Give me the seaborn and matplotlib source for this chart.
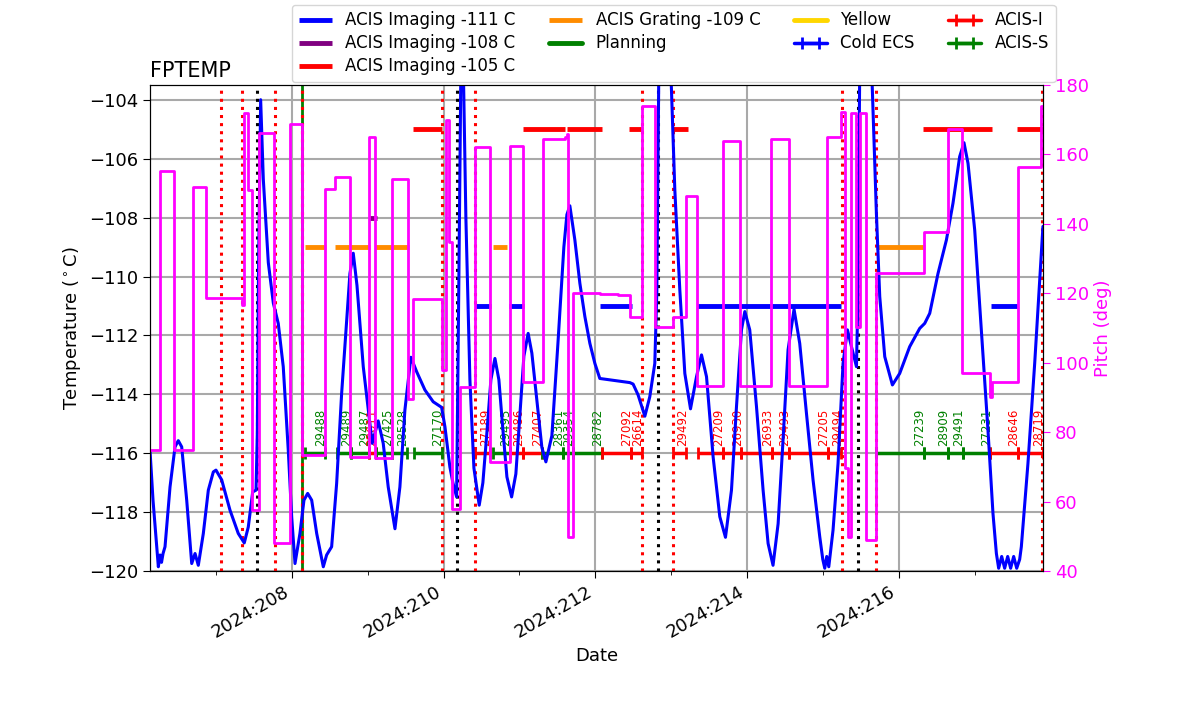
import numpy as np
import pandas as pd
import matplotlib
matplotlib.use('Agg')
import matplotlib.pyplot as plt
import seaborn as sns
from matplotlib.ticker import MultipleLocator, FuncFormatter

# focal plane temperature (day of year 2024, deg C)
temp_day = [206.128, 206.168, 206.238, 206.260, 206.280, 206.300, 206.326, 206.392, 206.458, 206.501,
            206.546, 206.612, 206.678, 206.722, 206.765, 206.831, 206.897, 206.963, 206.998, 207.073,
            207.183, 207.292, 207.371, 207.424, 207.482, 207.526, 207.543, 207.558, 207.587, 207.622,
            207.688, 207.754, 207.819, 207.885, 207.951, 207.996, 208.040, 208.105, 208.158, 208.207,
            208.260, 208.326, 208.413, 208.457, 208.523, 208.589, 208.655, 208.721, 208.764, 208.808,
            208.857, 208.940, 209.006, 209.058, 209.137, 209.203, 209.269, 209.358, 209.423, 209.489,
            209.568, 209.644, 209.753, 209.862, 209.973, 210.017, 210.082, 210.122, 210.171, 210.201,
            210.227, 210.260, 210.293, 210.346, 210.399, 210.469, 210.517, 210.570, 210.623, 210.676,
            210.728, 210.781, 210.834, 210.896, 210.952, 211.005, 211.058, 211.114, 211.163, 211.229,
            211.295, 211.348, 211.427, 211.506, 211.585, 211.625, 211.664, 211.730, 211.796, 211.862,
            211.928, 211.994, 212.059, 212.455, 212.498, 212.564, 212.653, 212.718, 212.784, 212.811,
            212.837, 212.995, 213.048, 213.114, 213.180, 213.255, 213.334, 213.400, 213.466, 213.553,
            213.641, 213.716, 213.795, 213.861, 213.927, 213.971, 214.036, 214.125, 214.212, 214.278,
            214.343, 214.410, 214.475, 214.541, 214.620, 214.695, 214.784, 214.871, 214.959, 214.999,
            215.025, 215.051, 215.078, 215.134, 215.200, 215.266, 215.324, 215.377, 215.443, 215.460,
            215.486, 215.644, 215.706, 215.750, 215.816, 215.917, 216.013, 216.145, 216.277, 216.343,
            216.409, 216.518, 216.629, 216.716, 216.804, 216.861, 216.914, 217.002, 217.090, 217.177,
            217.243, 217.288, 217.318, 217.358, 217.397, 217.437, 217.476, 217.516, 217.556, 217.595,
            217.617, 217.704, 217.793, 217.902]
temp_c = [-115.9, -117.6, -119.85, -119.45, -119.7, -119.4, -119.17, -117.14, -115.78, -115.57,
          -115.78, -117.59, -119.74, -119.4, -119.8, -118.72, -117.25, -116.63, -116.57, -116.9,
          -117.93, -118.72, -119.04, -118.5, -117.31, -117.25, -115.3, -110.0, -104.0, -106.7,
          -109.53, -110.9, -111.59, -113.06, -115.89, -118.15, -119.74, -118.72, -117.59, -117.36,
          -117.59, -118.72, -119.85, -119.45, -119.17, -117.02, -113.96, -111.47, -109.9, -109.21,
          -110.3, -113.06, -114.53, -115.66, -114.9, -115.66, -117.14, -118.56, -117.14, -114.53,
          -112.74, -113.23, -113.85, -114.25, -114.44, -115.1, -116.46, -117.0, -117.48, -110.0,
          -103.0, -103.0, -108.0, -113.5, -116.5, -117.76, -117.0, -115.3, -113.5, -112.78,
          -113.5, -115.2, -116.8, -117.48, -116.7, -114.7, -112.7, -111.93, -112.6, -114.2,
          -115.8, -116.29, -115.4, -112.3, -109.0, -107.9, -107.6, -108.76, -110.23, -111.36,
          -112.27, -112.95, -113.46, -113.6, -113.65, -114.02, -114.74, -114.08, -112.95, -110.5,
          -103.0, -103.0, -107.06, -110.46, -113.29, -114.49, -113.4, -112.66, -113.4, -116.12,
          -118.15, -118.85, -117.25, -114.42, -111.81, -111.19, -111.81, -114.42, -117.25, -119.06,
          -119.8, -118.39, -115.55, -112.49, -111.11, -112.27, -114.65, -116.91, -118.83, -119.6,
          -119.9, -119.5, -119.85, -118.61, -116.35, -112.95, -111.81, -112.38, -113.06, -111.0,
          -103.0, -103.0, -107.86, -110.68, -112.72, -113.68, -113.29, -112.38, -111.76, -111.59,
          -111.25, -109.9, -108.76, -107.51, -105.93, -105.46, -106.16, -108.42, -111.81, -115.21,
          -118.04, -119.4, -119.9, -119.5, -119.9, -119.5, -119.9, -119.5, -119.9, -119.6,
          -119.17, -116.35, -112.95, -108.3]

# pitch angle steps
pitch_day = [206.128, 206.260, 206.449, 206.699, 206.863, 207.337, 207.367, 207.420, 207.473, 207.565,
             207.763, 207.974, 208.128, 208.435, 208.567, 208.764, 209.019, 209.094, 209.322, 209.533,
             209.599, 209.973, 210.030, 210.073, 210.105, 210.214, 210.412, 210.610, 210.873, 211.048,
             211.304, 211.598, 211.620, 211.642, 211.707, 212.059, 212.300, 212.455, 212.609, 212.784,
             213.025, 213.202, 213.342, 213.684, 213.914, 214.322, 214.554, 215.055, 215.245, 215.288,
             215.328, 215.377, 215.433, 215.495, 215.565, 215.697, 216.329, 216.650, 216.840, 217.209,
             217.226, 217.573, 217.881, 217.902]
pitch_deg = [75, 155.3, 75, 150.5, 118.6, 116.6, 171.9, 149.8, 57.6, 166.1,
             48, 168.7, 73.4, 150, 153.4, 72.9, 165, 72.5, 152.8, 89.7,
             118.3, 97.9, 170, 134.9, 58, 93.1, 162.1, 71.5, 162.4, 94.5,
             164.4, 165, 165.8, 49.9, 120.2, 119.9, 119.6, 113.3, 174, 110.2,
             113.1, 147.9, 93.3, 163.9, 93.3, 164.5, 93.3, 165, 172.3, 69.6,
             49.9, 171.9, 110.4, 171.9, 48.9, 126, 137.8, 167.3, 97, 90.2,
             94.5, 156.5, 173.8, 173.8]

# temperature limit segments
lim111_start = [210.412, 210.864, 212.059, 213.342, 217.222]
lim111_stop = [210.619, 211.058, 212.477, 215.245, 217.573]
lim108_start = [209.019]
lim108_stop = [209.116]
lim105_start = [209.599, 211.040, 211.629, 212.448, 213.025, 216.320, 217.559]
lim105_stop = [209.973, 211.598, 212.090, 212.622, 213.223, 217.230, 217.897]
lim109_start = [208.171, 208.567, 209.094, 210.653, 215.706]
lim109_stop = [208.448, 209.028, 209.546, 210.830, 216.343]

# event lines
red_events = [207.064, 207.337, 207.776, 208.136, 209.973, 210.412, 212.617, 213.025,
              215.258, 215.706, 217.894]
black_events = [207.535, 210.179, 212.828, 215.464]
plan_events = [208.136]

# observations
obs_start = [208.171, 208.589, 208.778, 209.019, 209.103, 209.314, 209.608, 210.412, 210.653, 210.873,
             211.048, 211.291, 211.576, 211.707, 212.082, 212.464, 213.025, 213.355, 213.684, 213.927,
             214.330, 214.550, 215.068, 215.706, 216.329, 216.650, 216.848, 217.209, 217.572]
obs_stop = [208.435, 208.778, 209.019, 209.103, 209.314, 209.512, 209.973, 210.610, 210.873, 211.048,
            211.291, 211.576, 211.707, 212.082, 212.464, 212.617, 213.202, 213.684, 213.927, 214.330,
            214.550, 215.068, 215.245, 216.329, 216.650, 216.848, 217.209, 217.572, 217.902]
obsids = ['29488', '29489', '29487', '28611', '27425', '28528', '27170', '27189', '29495', '29486',
          '27407', '28361', '29354', '28782', '27092', '26614', '29492', '27209', '26930', '26933',
          '29493', '27205', '29494', '27239', '28909', '29491', '27231', '28646', '28719']
obs_inst = ['S', 'S', 'S', 'I', 'S', 'S', 'S', 'I', 'S', 'I',
            'I', 'S', 'S', 'S', 'I', 'I', 'I', 'I', 'I', 'I',
            'I', 'I', 'I', 'S', 'S', 'S', 'S', 'I', 'I']

sns.set_style('ticks')
plt.rcParams['font.family'] = ['DejaVu Sans']
plt.rcParams['axes.edgecolor'] = 'black'
plt.rcParams['xtick.color'] = 'black'
plt.rcParams['ytick.color'] = 'black'
plt.rcParams['text.color'] = 'black'
plt.rcParams['axes.labelcolor'] = 'black'

fig, ax = plt.subplots(figsize=(12, 7.14), dpi=100)
fig.subplots_adjust(left=0.125, right=0.869, bottom=0.2, top=0.881)

temp = pd.DataFrame({'day': temp_day, 'temp': temp_c})
sns.lineplot(data=temp, x='day', y='temp', ax=ax, color='blue', lw=2.2, sort=False,
             estimator=None, legend=False, zorder=5)

h111 = ax.hlines([-111] * len(lim111_start), lim111_start, lim111_stop, color='blue', lw=3.5)
h108 = ax.hlines([-108] * len(lim108_start), lim108_start, lim108_stop, color='purple', lw=3.5)
h105 = ax.hlines([-105] * len(lim105_start), lim105_start, lim105_stop, color='red', lw=3.5)
h109 = ax.hlines([-109] * len(lim109_start), lim109_start, lim109_stop, color='darkorange', lw=3.5)
hplan, = ax.plot([], [], color='green', lw=3.5)
hyel, = ax.plot([], [], color='gold', lw=3.5)

for d in red_events:
    ax.axvline(d, color='red', ls=':', lw=2.2)
for d in black_events:
    ax.axvline(d, color='black', ls=':', lw=2.2)
for d in plan_events:
    ax.axvline(d, color='green', lw=2)
    ax.axvline(d, color='red', ls=':', lw=2.2)

obs = pd.DataFrame({'start': obs_start, 'stop': obs_stop, 'obsid': obsids, 'inst': obs_inst})
obs['mid'] = (obs['start'] + obs['stop']) / 2
obs['half'] = (obs['stop'] - obs['start']) / 2
inst_color = {'I': 'red', 'S': 'green'}
hinst = {}
for _, row in obs.iterrows():
    c = inst_color[row['inst']]
    eb = ax.errorbar([row['mid']], [-116], xerr=[row['half']], fmt='-', color=c, lw=2.5,
                     elinewidth=2.5, capsize=4, capthick=2, zorder=4)
    if row['inst'] not in hinst:
        hinst[row['inst']] = eb
    ax.text(row['stop'] - 0.055, -115.75, row['obsid'], rotation=90, ha='center', va='bottom',
            fontsize=8.5, color=c, zorder=3)
hecs = ax.errorbar([np.nan], [np.nan], xerr=[np.nan], fmt='-', color='blue', lw=2.5,
                   elinewidth=2.5, capsize=4, capthick=2)

ax.set_xlim(206.128, 217.9)
ax.set_ylim(-120, -103.5)
ax.xaxis.set_major_locator(MultipleLocator(2))
ax.xaxis.set_minor_locator(MultipleLocator(1))
ax.xaxis.set_major_formatter(FuncFormatter(lambda v, p: f"2024:{int(round(v)):03d}"))
ax.yaxis.set_major_locator(MultipleLocator(2))
ax.grid(True, color='darkgray', lw=1.5)
ax.tick_params(axis='both', labelsize=13, length=5)
ax.tick_params(axis='x', which='minor', length=3)
for lab in ax.get_xticklabels():
    lab.set_rotation(30)
    lab.set_ha('right')
ax.set_xlabel('Date', fontsize=13)
ax.set_ylabel('Temperature ($^\\circ$C)', fontsize=13)
ax.set_title('FPTEMP', loc='left', fontsize=15)

ax2 = ax.twinx()
pitch = pd.DataFrame({'day': pitch_day, 'pitch': pitch_deg})
sns.lineplot(data=pitch, x='day', y='pitch', ax=ax2, color='magenta', lw=2, sort=False,
             estimator=None, legend=False, drawstyle='steps-post')
ax2.set_ylim(40, 180)
ax2.set_xlim(206.128, 217.9)
ax2.set_ylabel('Pitch (deg)', color='magenta', fontsize=13)
ax2.tick_params(axis='y', colors='magenta', labelsize=13, length=5)
ax2.spines['right'].set_color('black')

handles = [h111, h108, h105, h109, hplan, hyel, hecs, hinst['I'], hinst['S']]
labels = ['ACIS Imaging -111 C', 'ACIS Imaging -108 C', 'ACIS Imaging -105 C',
          'ACIS Grating -109 C', 'Planning', 'Yellow', 'Cold ECS', 'ACIS-I', 'ACIS-S']
ax.legend(handles, labels, ncol=4, loc='lower left', bbox_to_anchor=(0.159, 1.006),
          fontsize=12, borderaxespad=0, columnspacing=2.0, labelspacing=0.3)

fig.savefig('out.png', dpi=100)
